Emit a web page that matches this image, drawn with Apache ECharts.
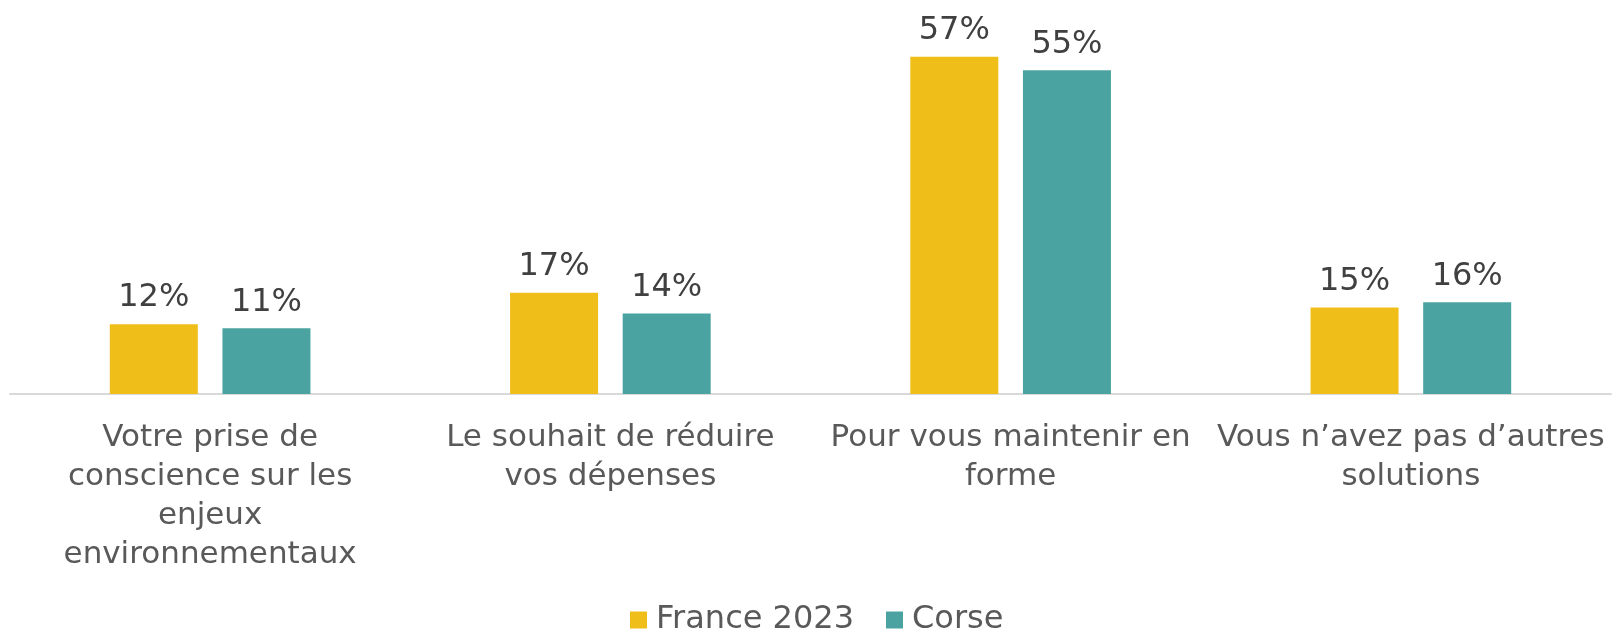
<!DOCTYPE html>
<html lang="fr">
    <head>
        <meta charset="utf-8">
        <title>Raisons</title>
        <style>
            html, body { margin: 0; padding: 0; background: #fff; }
        </style>
    </head>
    <body>
        <div id="main" style="width: 1617px;height:629px;"></div>
        <script src="https://cdn.jsdelivr.net/npm/echarts@6/dist/echarts.min.js"></script>
        <script type="text/javascript">
            // categories and values
            var categories = [
                "Votre prise de\nconscience sur les\nenjeux\nenvironnementaux",
                "Le souhait de réduire\nvos dépenses",
                "Pour vous maintenir en\nforme",
                "Vous n’avez pas d’autres\nsolutions"
            ];
            var seriesNames = ["France 2023", "Corse"];
            var france2023 = [11.8, 17.1, 57.0, 14.6];
            var corse = [11.1, 13.6, 54.7, 15.5];

            var font = "DejaVu Sans";
            var myChart = echarts.init(document.getElementById('main'));

            var labelOpt = {
                show: true,
                position: 'top',
                distance: 10,
                fontFamily: font,
                fontSize: 32,
                color: '#404040',
                formatter: function(p) {
                    return Math.round(p.value) + '%';
                }
            };

            myChart.setOption({
                backgroundColor: '#ffffff',
                animation: false,
                grid: {
                    left: 10,
                    right: 6,
                    top: 39,
                    bottom: 235,
                    containLabel: false
                },
                legend: {
                    data: seriesNames,
                    left: 625,
                    top: 599,
                    itemWidth: 17,
                    itemHeight: 17,
                    itemGap: 32,
                    icon: 'rect',
                    textStyle: {
                        fontFamily: font,
                        fontSize: 32,
                        color: '#595959',
                        padding: [0, 0, 0, 4]
                    }
                },
                xAxis: {
                    type: 'category',
                    data: categories,
                    axisLine: {
                        show: true,
                        lineStyle: { color: '#d9d9d9', width: 2 }
                    },
                    axisTick: { show: false },
                    axisLabel: {
                        interval: 0,
                        margin: 24,
                        fontFamily: font,
                        fontSize: 31,
                        lineHeight: 39,
                        color: '#595959',
                        align: 'center'
                    }
                },
                yAxis: {
                    type: 'value',
                    min: 0,
                    max: 60,
                    show: false,
                    splitLine: { show: false }
                },
                series: [{
                        name: seriesNames[0],
                        type: 'bar',
                        data: france2023,
                        barWidth: 88,
                        barGap: '28%',
                        itemStyle: { color: '#F0BE18' },
                        label: labelOpt
                    }, {
                        name: seriesNames[1],
                        type: 'bar',
                        data: corse,
                        barWidth: 88,
                        itemStyle: { color: '#4AA3A0' },
                        label: labelOpt
                    }]
            });
        </script>
    </body>
</html>
